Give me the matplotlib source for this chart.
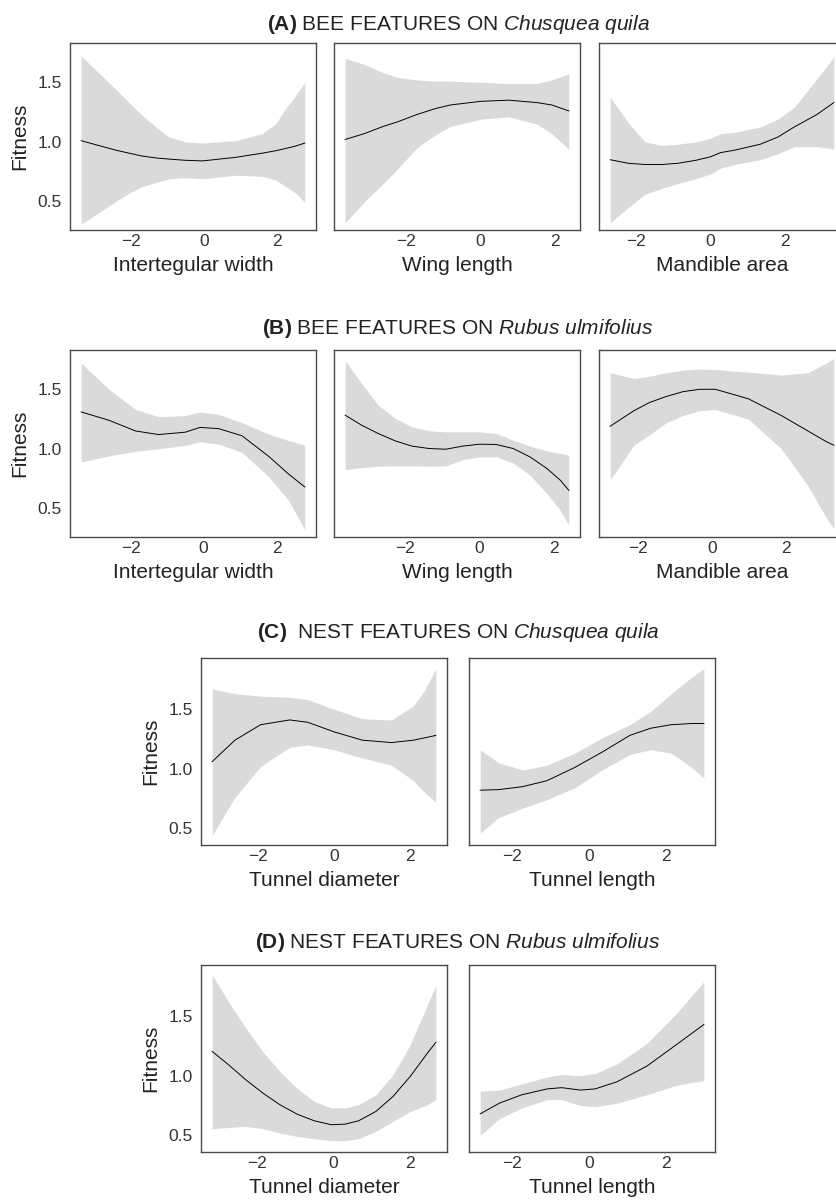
import numpy as np
from matplotlib import pyplot as plt

plt.rcParams['font.family'] = ['Liberation Sans', 'DejaVu Sans']
plt.rcParams['mathtext.fontset'] = 'custom'
plt.rcParams['mathtext.rm'] = 'Liberation Sans'
plt.rcParams['mathtext.it'] = 'Liberation Sans:italic'
plt.rcParams['mathtext.bf'] = 'Liberation Sans:bold'

#row A: bee features on Chusquea quila
a1X = [-3.36, -2.95, -2.41, -2.05, -1.68, -1.32, -0.95, -0.5, -0.05, 0.86, 1.59, 1.95, 2.23, 2.5, 2.75]
a1Fit = [1.01, 0.975, 0.93, 0.905, 0.88, 0.865, 0.855, 0.845, 0.84, 0.87, 0.905, 0.925, 0.945, 0.965, 0.99]
a1Hi = [1.72, 1.60, 1.44, 1.33, 1.22, 1.125, 1.04, 1.00, 0.99, 1.01, 1.07, 1.15, 1.28, 1.39, 1.50]
a1Lo = [0.31, 0.39, 0.50, 0.57, 0.625, 0.66, 0.69, 0.70, 0.69, 0.72, 0.71, 0.68, 0.625, 0.57, 0.49]

a2X = [-3.62, -3.1, -2.6, -2.2, -1.7, -1.2, -0.8, 0.0, 0.75, 1.5, 1.9, 2.36]
a2Fit = [1.02, 1.07, 1.13, 1.17, 1.23, 1.28, 1.31, 1.34, 1.35, 1.33, 1.31, 1.26]
a2Hi = [1.70, 1.65, 1.58, 1.54, 1.52, 1.51, 1.51, 1.50, 1.49, 1.49, 1.52, 1.57]
a2Lo = [0.32, 0.50, 0.65, 0.78, 0.95, 1.06, 1.13, 1.19, 1.21, 1.15, 1.07, 0.94]

a3X = [-2.69, -2.2, -1.76, -1.3, -0.88, -0.4, 0.0, 0.27, 0.64, 1.33, 1.8, 2.24, 2.85, 3.3]
a3Fit = [0.85, 0.82, 0.81, 0.81, 0.82, 0.845, 0.875, 0.91, 0.93, 0.98, 1.04, 1.125, 1.23, 1.33]
a3Hi = [1.375, 1.16, 1.00, 0.97, 0.98, 1.00, 1.03, 1.07, 1.08, 1.125, 1.19, 1.29, 1.53, 1.71]
a3Lo = [0.32, 0.45, 0.56, 0.61, 0.65, 0.69, 0.73, 0.78, 0.81, 0.85, 0.90, 0.96, 0.96, 0.94]

#row B: bee features on Rubus ulmifolius
b1X = [-3.35, -2.59, -1.86, -1.23, -0.5, -0.1, 0.41, 1.05, 1.77, 2.32, 2.77]
b1Fit = [1.31, 1.24, 1.15, 1.12, 1.14, 1.18, 1.17, 1.11, 0.94, 0.79, 0.68]
b1Hi = [1.72, 1.50, 1.33, 1.27, 1.28, 1.31, 1.29, 1.22, 1.125, 1.07, 1.03]
b1Lo = [0.89, 0.94, 0.98, 1.00, 1.03, 1.06, 1.04, 0.97, 0.77, 0.57, 0.32]

b2X = [-3.62, -3.18, -2.73, -2.27, -1.82, -1.36, -0.91, -0.45, 0.0, 0.45, 0.91, 1.36, 1.82, 2.18, 2.41]
b2Fit = [1.283, 1.199, 1.129, 1.067, 1.023, 1.003, 0.997, 1.023, 1.039, 1.037, 1.003, 0.933, 0.835, 0.737, 0.652]
b2Hi = [1.74, 1.55, 1.367, 1.255, 1.185, 1.152, 1.143, 1.143, 1.143, 1.129, 1.073, 1.023, 0.983, 0.961, 0.947]
b2Lo = [0.826, 0.843, 0.854, 0.857, 0.857, 0.854, 0.857, 0.91, 0.933, 0.933, 0.882, 0.779, 0.624, 0.484, 0.358]

b3X = [-2.75, -2.11, -1.68, -1.23, -0.78, -0.34, 0.1, 0.99, 1.88, 2.6, 3.1, 3.3]
b3Fit = [1.19, 1.32, 1.39, 1.44, 1.48, 1.50, 1.50, 1.42, 1.28, 1.15, 1.06, 1.03]
b3Hi = [1.64, 1.59, 1.61, 1.64, 1.66, 1.67, 1.665, 1.645, 1.62, 1.64, 1.72, 1.76]
b3Lo = [0.74, 1.03, 1.12, 1.22, 1.28, 1.32, 1.33, 1.25, 1.00, 0.69, 0.42, 0.33]

#row C: nest features on Chusquea quila
c1X = [-3.22, -2.62, -1.94, -1.17, -0.69, 0.0, 0.75, 1.52, 2.1, 2.4, 2.69]
c1Fit = [1.06, 1.24, 1.37, 1.41, 1.39, 1.31, 1.24, 1.22, 1.24, 1.26, 1.28]
c1Hi = [1.67, 1.63, 1.61, 1.60, 1.58, 1.50, 1.42, 1.41, 1.53, 1.66, 1.84]
c1Lo = [0.44, 0.76, 1.02, 1.18, 1.20, 1.16, 1.09, 1.03, 0.90, 0.80, 0.72]

c2X = [-2.83, -2.35, -1.72, -1.09, -0.37, 0.35, 1.07, 1.61, 2.15, 2.69, 3.0]
c2Fit = [0.82, 0.825, 0.85, 0.90, 1.01, 1.14, 1.28, 1.34, 1.37, 1.38, 1.38]
c2Hi = [1.16, 1.05, 0.99, 1.03, 1.13, 1.26, 1.37, 1.48, 1.63, 1.77, 1.84]
c2Lo = [0.46, 0.59, 0.67, 0.74, 0.84, 0.99, 1.12, 1.16, 1.13, 1.01, 0.92]

#row D: nest features on Rubus ulmifolius
d1X = [-3.16, -2.73, -2.28, -1.83, -1.39, -0.94, -0.49, -0.04, 0.32, 0.67, 1.12, 1.57, 2.02, 2.47, 2.69]
d1Fit = [1.204, 1.092, 0.966, 0.854, 0.757, 0.678, 0.622, 0.589, 0.594, 0.622, 0.70, 0.826, 0.994, 1.19, 1.28]
d1Hi = [1.846, 1.62, 1.40, 1.20, 1.036, 0.896, 0.784, 0.73, 0.73, 0.757, 0.84, 1.008, 1.26, 1.595, 1.76]
d1Lo = [0.555, 0.566, 0.575, 0.555, 0.519, 0.491, 0.472, 0.455, 0.455, 0.472, 0.533, 0.617, 0.70, 0.757, 0.80]

d2X = [-2.83, -2.33, -1.75, -1.08, -0.70, -0.22, 0.17, 0.74, 1.51, 2.28, 3.0]
d2Fit = [0.68, 0.77, 0.84, 0.89, 0.90, 0.88, 0.89, 0.95, 1.08, 1.26, 1.43]
d2Hi = [0.87, 0.88, 0.93, 0.99, 1.01, 1.00, 1.02, 1.10, 1.27, 1.52, 1.79]
d2Lo = [0.50, 0.64, 0.73, 0.80, 0.80, 0.75, 0.74, 0.77, 0.84, 0.92, 0.96]

xTicks = [-2, 0, 2]
yTicks = [0.5, 1.0, 1.5]
yTickLabels = ['0.5', '1.0', '1.5']

rowTitles = [r'$\mathbf{(A)}$ BEE FEATURES ON $\mathit{Chusquea\ quila}$',
             r'$\mathbf{(B)}$ BEE FEATURES ON $\mathit{Rubus\ ulmifolius}$',
             r'$\mathbf{(C)}$  NEST FEATURES ON $\mathit{Chusquea\ quila}$',
             r'$\mathbf{(D)}$ NEST FEATURES ON $\mathit{Rubus\ ulmifolius}$']

W, H = 837.0, 1204.0
bandColor = '#d9dadc'
spineColor = '#4a4a4a'


def panel(fig, box, x, fit, lo, hi, xlabel, ylim, showY):
    """
    Draws one fitness panel. box is (left, top, right, bottom) in pixels
    of the figure, top-left origin like the picture.
    """
    left, top, right, bottom = box
    ax = fig.add_axes([left / W, 1 - bottom / H, (right - left) / W, (bottom - top) / H])
    ax.fill_between(x, lo, hi, color=bandColor, linewidth=0)
    ax.plot(x, fit, color='black', linewidth=0.7)
    #ggplot-like 5% expansion on the x axis
    span = x[-1] - x[0]
    ax.set_xlim(x[0] - 0.05 * span, x[-1] + 0.05 * span)
    ax.set_ylim(*ylim)
    ax.set_xticks(xTicks)
    ax.set_yticks(yTicks)
    ax.set_yticklabels(yTickLabels)
    ax.tick_params(length=0, labelsize=12.5, colors='#333333', pad=3)
    ax.tick_params(axis='y', pad=6)
    if not showY:
        ax.set_yticklabels([])
    for s in ax.spines.values():
        s.set_color(spineColor)
        s.set_linewidth(1.0)
    ax.set_xlabel(xlabel, fontsize=15, color='#222222', labelpad=5)
    if showY:
        ax.set_ylabel('Fitness', fontsize=15, color='#222222', labelpad=6)
    return ax


fig = plt.figure(figsize=(W / 100, H / 100), dpi=100)

ylimAB = (0.26, 1.83)
ylimCD = (0.36, 1.93)

#row A
topA, botA = 43, 230
panel(fig, (70, topA, 316, botA), a1X, a1Fit, a1Lo, a1Hi, 'Intertegular width', ylimAB, True)
panel(fig, (334, topA, 580, botA), a2X, a2Fit, a2Lo, a2Hi, 'Wing length', ylimAB, False)
panel(fig, (599, topA, 845, botA), a3X, a3Fit, a3Lo, a3Hi, 'Mandible area', ylimAB, False)

#row B
topB, botB = 350, 537
panel(fig, (70, topB, 316, botB), b1X, b1Fit, b1Lo, b1Hi, 'Intertegular width', ylimAB, True)
panel(fig, (334, topB, 580, botB), b2X, b2Fit, b2Lo, b2Hi, 'Wing length', ylimAB, False)
panel(fig, (599, topB, 845, botB), b3X, b3Fit, b3Lo, b3Hi, 'Mandible area', ylimAB, False)

#row C
topC, botC = 658, 845
panel(fig, (201, topC, 447, botC), c1X, c1Fit, c1Lo, c1Hi, 'Tunnel diameter', ylimCD, True)
panel(fig, (469, topC, 715, botC), c2X, c2Fit, c2Lo, c2Hi, 'Tunnel length', ylimCD, False)

#row D
topD, botD = 965, 1152
panel(fig, (201, topD, 447, botD), d1X, d1Fit, d1Lo, d1Hi, 'Tunnel diameter', ylimCD, True)
panel(fig, (469, topD, 715, botD), d2X, d2Fit, d2Lo, d2Hi, 'Tunnel length', ylimCD, False)

#row titles
titleY = [24, 329, 633, 942]
for t, yPix in zip(rowTitles, titleY):
    fig.text(458 / W, 1 - yPix / H, t, fontsize=15, color='#222222',
             ha='center', va='center')

fig.savefig('out.png', dpi=100)
